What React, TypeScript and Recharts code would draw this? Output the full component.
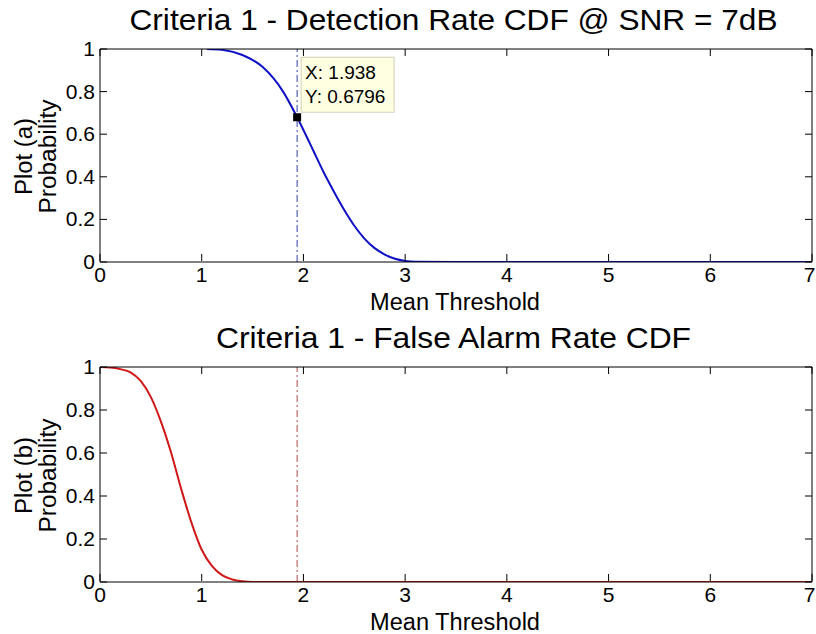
import React from "react";
import { LineChart, Line, XAxis, YAxis, ReferenceLine, ReferenceDot, Label } from "recharts";

const FONT = "'Liberation Sans', Arial, Helvetica, sans-serif";

// Detection rate CDF (plot a)
const detX = [1.05, 1.2, 1.4, 1.6, 1.8, 1.938, 2.0, 2.1, 2.2, 2.3, 2.4, 2.5, 2.6, 2.7, 2.8, 2.9, 3.0, 3.1, 3.5, 4, 5, 6, 7];
const detY = [1.0, 0.996, 0.972, 0.915, 0.8, 0.6796, 0.62, 0.52, 0.42, 0.33, 0.245, 0.17, 0.11, 0.065, 0.035, 0.015, 0.005, 0.001, 0, 0, 0, 0, 0];

// False alarm rate CDF (plot b)
const faX = [0, 0.1, 0.2, 0.3, 0.4, 0.5, 0.6, 0.7, 0.8, 0.9, 1.0, 1.1, 1.2, 1.3, 1.4, 1.5, 2, 3, 4, 5, 6, 7];
const faY = [1.0, 0.998, 0.99, 0.975, 0.935, 0.86, 0.745, 0.6, 0.43, 0.275, 0.15, 0.075, 0.032, 0.012, 0.003, 0, 0, 0, 0, 0, 0, 0];

const xTicks = [0, 1, 2, 3, 4, 5, 6, 7];
const yTicks = [0, 0.2, 0.4, 0.6, 0.8, 1];

const threshold = 1.938;
const tipY = 0.6796;

const titleA = "Criteria 1 - Detection Rate CDF @ SNR = 7dB";
const titleB = "Criteria 1 - False Alarm Rate CDF";
const xLabel = "Mean Threshold";

const toRows = (xs: number[], ys: number[]) => xs.map((x, i) => ({ x, y: ys[i] }));

const fmt = (v: number) => (v === 0 ? "0" : v === 1 ? "1" : String(v));

const XTickB = (p: any) => {
  const last = p.payload.value === xTicks[xTicks.length - 1];
  return (
    <g>
      <line x1={p.x} y1={p.y - 1} x2={p.x} y2={p.y - 8} stroke="#000" strokeWidth={1} />
      <text x={last ? p.x - 2.5 : p.x} y={p.y + 20} textAnchor="middle" fontSize={21} fill="#000" fontFamily={FONT}>
        {fmt(p.payload.value)}
      </text>
    </g>
  );
};
const XTickT = (p: any) => (
  <line x1={p.x} y1={p.y} x2={p.x} y2={p.y + 7} stroke="#000" strokeWidth={1} />
);
const YTickL = (p: any) => (
  <g>
    <line x1={p.x} y1={p.y} x2={p.x + 7} y2={p.y} stroke="#000" strokeWidth={1} />
    <text x={p.x - 5} y={p.y + 7} textAnchor="end" fontSize={21} fill="#000" fontFamily={FONT}>
      {fmt(p.payload.value)}
    </text>
  </g>
);
const YTickR = (p: any) => (
  <line x1={p.x} y1={p.y} x2={p.x - 7} y2={p.y} stroke="#000" strokeWidth={1} />
);

const TipShape = (p: any) => {
  const cx = p.cx;
  const cy = p.cy;
  return (
    <g>
      <rect x={cx + 4} y={cy - 60} width={93} height={55} fill="#ffffe1" stroke="#d0d0b8" strokeWidth={1} />
      <text x={cx + 8} y={cy - 38} fontSize={19} fill="#000" fontFamily={FONT}>X: {threshold}</text>
      <text x={cx + 8} y={cy - 14} fontSize={19} fill="#000" fontFamily={FONT}>Y: {tipY}</text>
      <rect x={cx - 4} y={cy - 4} width={8} height={8} fill="#000" />
    </g>
  );
};

type PanelProps = {
  rows: { x: number; y: number }[];
  color: string;
  refColor: string;
  title: string;
  titleLen: number;
  plotName: string;
  top: number;
  height: number;
  margin: { top: number; right: number; bottom: number; left: number };
  tip: boolean;
};

const Panel = ({ rows, color, refColor, title, titleLen, plotName, top, height, margin, tip }: PanelProps) => (
  <div style={{ position: "absolute", left: 0, top, width: 816, height }}>
    <LineChart width={816} height={height} data={rows} margin={margin}>
      <XAxis
        xAxisId="b"
        dataKey="x"
        type="number"
        domain={[0, 7]}
        ticks={xTicks}
        height={1}
        tickSize={0}
        tickMargin={0}
        tickLine={false}
        axisLine={{ stroke: "#000", strokeWidth: 1 }}
        tick={<XTickB />}
        interval={0}
        allowDataOverflow
      >
        <Label
          content={(lp: any) => {
            const vb = lp.viewBox || { x: 100, y: 262, width: 712 };
            return (
              <text x={vb.x + vb.width / 2 - 1} y={vb.y + 48} textAnchor="middle" fontSize={23} fill="#000" fontFamily={FONT} textLength={170} lengthAdjust="spacingAndGlyphs">
                {xLabel}
              </text>
            );
          }}
        />
      </XAxis>
      <XAxis
        xAxisId="t"
        dataKey="x"
        type="number"
        orientation="top"
        domain={[0, 7]}
        ticks={xTicks}
        height={1}
        tickSize={0}
        tickMargin={0}
        tickLine={false}
        axisLine={{ stroke: "#000", strokeWidth: 1 }}
        tick={<XTickT />}
        interval={0}
        allowDataOverflow
      >
        <Label
          content={(lp: any) => {
            const vb = lp.viewBox || { x: 100, y: 49, width: 712 };
            return (
              <text x={vb.x + vb.width / 2 - 2.5} y={vb.y - 18} textAnchor="middle" fontSize={29} fill="#000" fontFamily={FONT} textLength={titleLen} lengthAdjust="spacingAndGlyphs">
                {title}
              </text>
            );
          }}
        />
      </XAxis>
      <YAxis
        yAxisId="l"
        type="number"
        domain={[0, 1]}
        ticks={yTicks}
        width={1}
        tickSize={0}
        tickMargin={0}
        tickLine={false}
        axisLine={{ stroke: "#000", strokeWidth: 1 }}
        tick={<YTickL />}
        interval={0}
        allowDataOverflow
      >
        <Label
          content={(lp: any) => {
            const vb = lp.viewBox || { x: 100, y: 49, height: 213 };
            const cy = vb.y + vb.height / 2 + 1;
            return (
              <g>
                <text transform={`translate(${vb.x - 67}, ${cy}) rotate(-90)`} textAnchor="middle" fontSize={23} fill="#000" fontFamily={FONT} textLength={77} lengthAdjust="spacingAndGlyphs">
                  {plotName}
                </text>
                <text transform={`translate(${vb.x - 43}, ${cy}) rotate(-90)`} textAnchor="middle" fontSize={23} fill="#000" fontFamily={FONT} textLength={114} lengthAdjust="spacingAndGlyphs">
                  Probability
                </text>
              </g>
            );
          }}
        />
      </YAxis>
      <YAxis
        yAxisId="r"
        orientation="right"
        type="number"
        domain={[0, 1]}
        ticks={yTicks}
        width={1}
        tickSize={0}
        tickMargin={0}
        tickLine={false}
        axisLine={{ stroke: "#000", strokeWidth: 1 }}
        tick={<YTickR />}
        interval={0}
        allowDataOverflow
      />
      <ReferenceLine
        xAxisId="b"
        yAxisId="l"
        x={threshold}
        stroke={refColor}
        strokeWidth={1}
        strokeDasharray="7 3 2 3"
      />
      <Line
        xAxisId="b"
        yAxisId="l"
        type="monotone"
        dataKey="y"
        stroke={color}
        strokeWidth={2}
        dot={false}
        activeDot={false}
        isAnimationActive={false}
      />
      {tip && (
        <ReferenceDot xAxisId="b" yAxisId="l" x={threshold} y={tipY} r={4} shape={<TipShape />} />
      )}
    </LineChart>
  </div>
);

export default function App() {
  return (
    <div style={{ position: "absolute", left: 0, top: 0, width: 816, height: 634, background: "#fff", overflow: "hidden" }}>
      <Panel
        rows={toRows(detX, detY)}
        color="#1010c4"
        refColor="#3040a8"
        title={titleA}
        titleLen={648}
        plotName="Plot (a)"
        top={0}
        height={317}
        margin={{ top: 48, right: 3, bottom: 54, left: 99 }}
        tip={true}
      />
      <Panel
        rows={toRows(faX, faY)}
        color="#d01818"
        refColor="#b04848"
        title={titleB}
        titleLen={475}
        plotName="Plot (b)"
        top={317}
        height={317}
        margin={{ top: 49, right: 3, bottom: 51, left: 99 }}
        tip={false}
      />
    </div>
  );
}
